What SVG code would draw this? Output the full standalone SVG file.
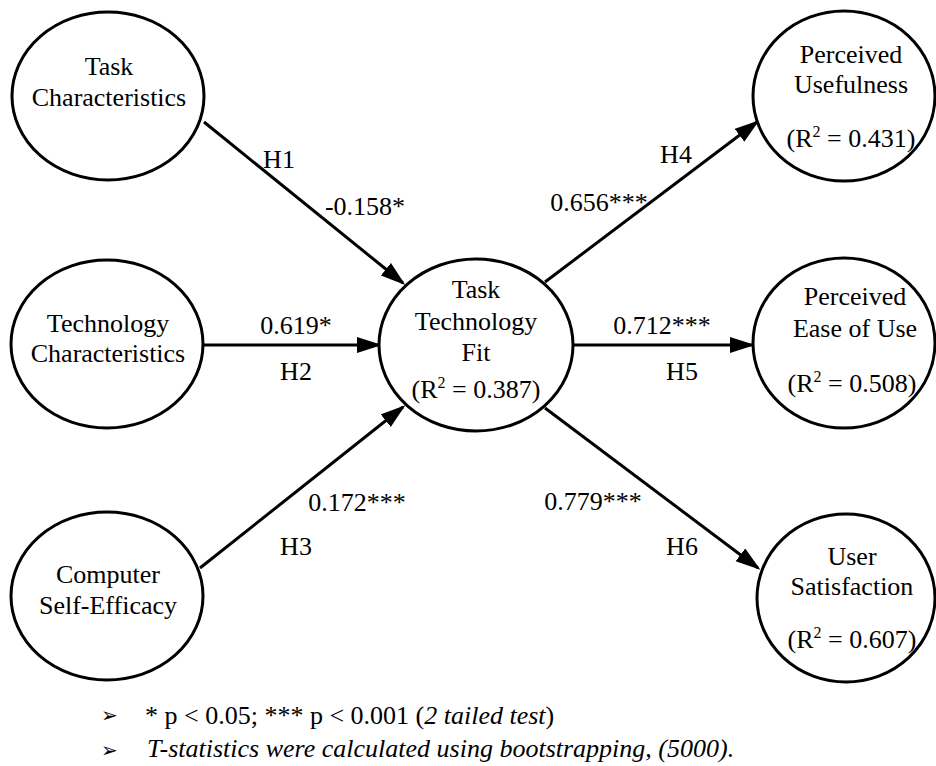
<svg xmlns="http://www.w3.org/2000/svg" width="936" height="766" viewBox="0 0 936 766" font-family="'Liberation Serif', 'DejaVu Serif', serif">
<style>
text{font-family:'Liberation Serif','DejaVu Serif',serif}
.n{fill:#fff;stroke:#000;stroke-width:3}
.t{font-size:26px;fill:#000;text-anchor:middle}
.c{stroke:#000;stroke-width:3;fill:none;marker-end:url(#ah)}
.f{font-size:26px;fill:#000}
.b{font-family:'DejaVu Sans',sans-serif;font-size:20px;fill:#000}
.s{font-size:16px}
</style>
<defs>
<marker id="ah" markerUnits="userSpaceOnUse" markerWidth="26" markerHeight="18" refX="22" refY="8" orient="auto">
<path d="M0,0 L25,8 L0,16 z" fill="#000"/>
</marker>
</defs>
<rect width="936" height="766" fill="#fff"/>
<g id="connectors">
<line class="c" x1="204" y1="122" x2="403" y2="283"/>
<line class="c" x1="204" y1="345" x2="379" y2="345"/>
<line class="c" x1="200" y1="568" x2="403" y2="407"/>
<line class="c" x1="545" y1="282" x2="757" y2="122"/>
<line class="c" x1="573" y1="345" x2="752" y2="345"/>
<line class="c" x1="545" y1="408" x2="758" y2="568"/>
<text class="t" x="279" y="168">H1</text>
<text class="t" x="365" y="215">-0.158*</text>
<text class="t" x="296" y="334">0.619*</text>
<text class="t" x="296" y="380">H2</text>
<text class="t" x="357" y="511">0.172***</text>
<text class="t" x="296" y="555">H3</text>
<text class="t" x="599" y="211">0.656***</text>
<text class="t" x="676" y="163">H4</text>
<text class="t" x="662" y="334">0.712***</text>
<text class="t" x="682" y="380">H5</text>
<text class="t" x="593" y="510">0.779***</text>
<text class="t" x="682" y="555">H6</text>
</g>
<g id="task-characteristics">
<ellipse class="n" cx="108" cy="96" rx="96" ry="84"/>
<text class="t" x="109" y="75">Task</text>
<text class="t" x="109" y="106">Characteristics</text>
</g>
<g id="technology-characteristics">
<ellipse class="n" cx="107" cy="344" rx="96" ry="84"/>
<text class="t" x="108" y="332">Technology</text>
<text class="t" x="108" y="362">Characteristics</text>
</g>
<g id="computer-self-efficacy">
<ellipse class="n" cx="107" cy="596" rx="96" ry="84"/>
<text class="t" x="108" y="583">Computer</text>
<text class="t" x="108" y="614">Self-Efficacy</text>
</g>
<g id="task-technology-fit">
<ellipse class="n" cx="476" cy="345" rx="97" ry="86"/>
<text class="t" x="476" y="298">Task</text>
<text class="t" x="476" y="330">Technology</text>
<text class="t" x="476" y="361">Fit</text>
<text class="t" x="476" y="398">(R<tspan class="s" dy="-10">2</tspan><tspan dy="10"> = 0.387)</tspan></text>
</g>
<g id="perceived-usefulness">
<ellipse class="n" cx="844" cy="96" rx="91" ry="85"/>
<text class="t" x="851" y="63">Perceived</text>
<text class="t" x="851" y="93">Usefulness</text>
<text class="t" x="851" y="147">(R<tspan class="s" dy="-10">2</tspan><tspan dy="10"> = 0.431)</tspan></text>
</g>
<g id="perceived-ease-of-use">
<ellipse class="n" cx="844" cy="343" rx="91" ry="85"/>
<text class="t" x="855" y="305">Perceived</text>
<text class="t" x="855" y="337">Ease of Use</text>
<text class="t" x="852" y="392">(R<tspan class="s" dy="-10">2</tspan><tspan dy="10"> = 0.508)</tspan></text>
</g>
<g id="user-satisfaction">
<ellipse class="n" cx="846" cy="598" rx="89" ry="84"/>
<text class="t" x="852" y="565">User</text>
<text class="t" x="852" y="595">Satisfaction</text>
<text class="t" x="852" y="648">(R<tspan class="s" dy="-10">2</tspan><tspan dy="10"> = 0.607)</tspan></text>
</g>
<g id="notes">
<text class="b" x="101" y="722">➢</text>
<text class="f" x="145" y="724">* p &lt; 0.05; *** p &lt; 0.001 (<tspan font-style="italic">2 tailed test</tspan>)</text>
<text class="b" x="101" y="757">➢</text>
<text class="f" x="147" y="757" font-style="italic">T-statistics were calculated using bootstrapping, (5000).</text>
</g>
</svg>
